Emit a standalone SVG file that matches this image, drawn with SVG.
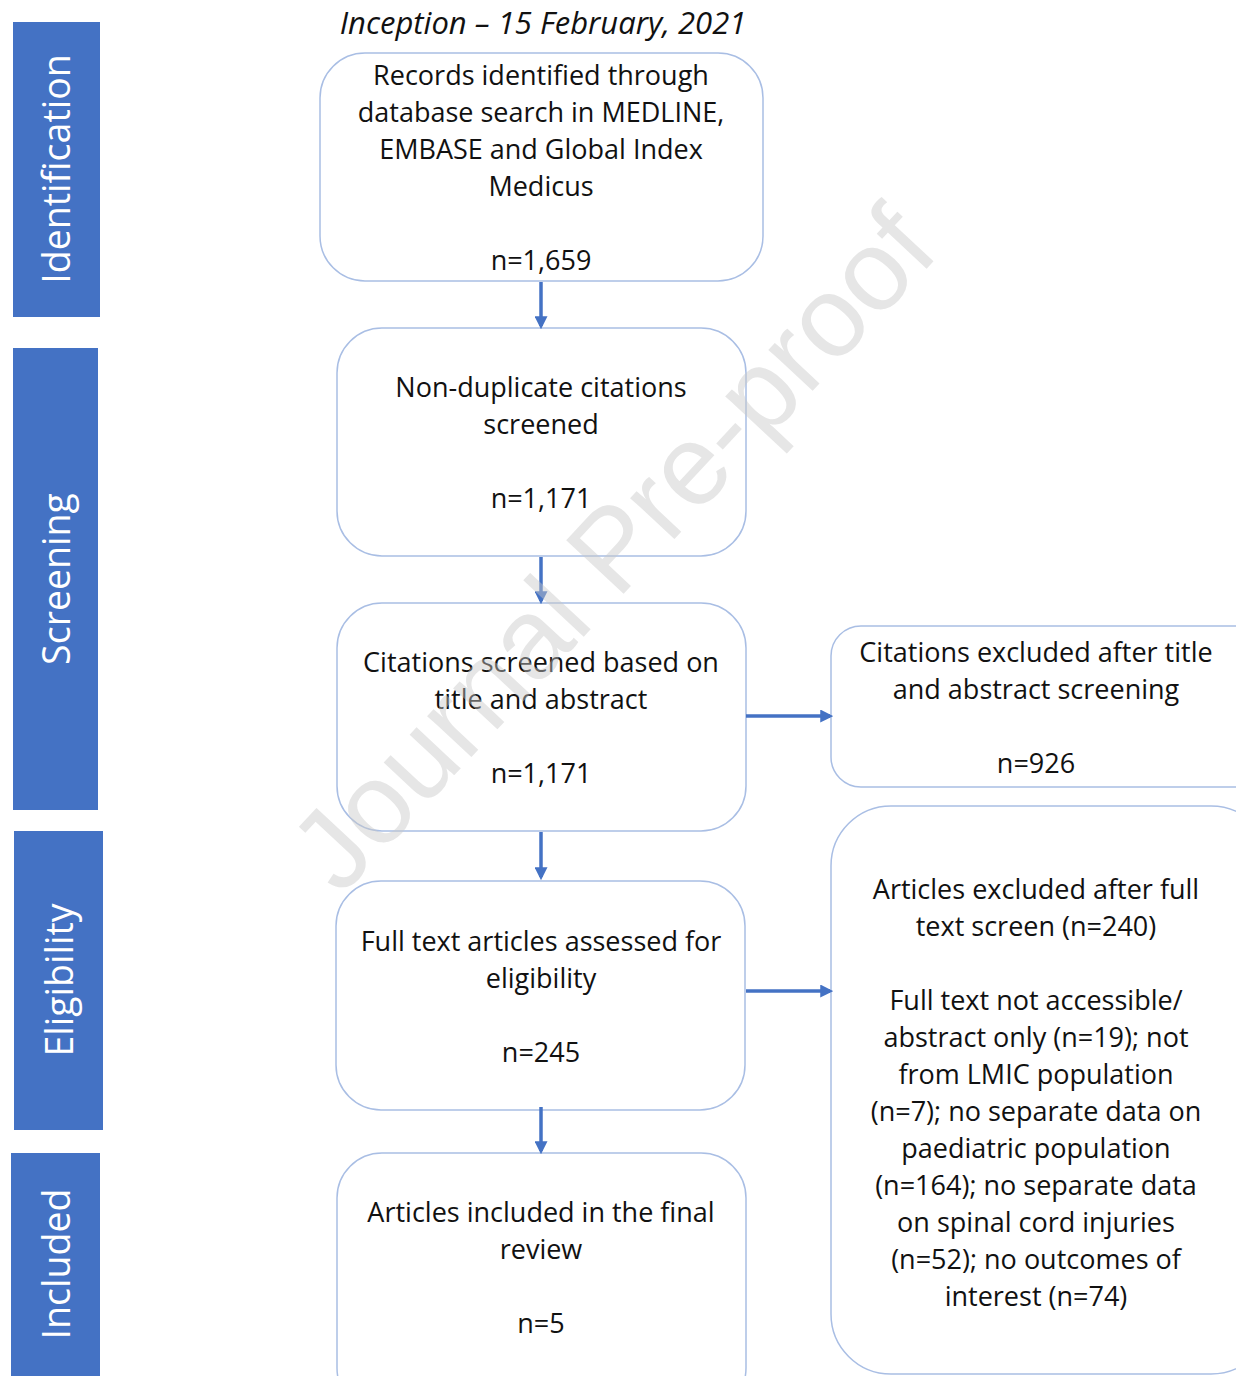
<svg xmlns="http://www.w3.org/2000/svg" width="1236" height="1376" viewBox="0 0 1236 1376">
<defs>
<style>
.bar{fill:#4472C4}
.bl{fill:#fff;font-family:"Open Sans","Liberation Sans",sans-serif;font-size:37.5px;text-anchor:middle}
.box{fill:#fff;stroke:#A9BEE4;stroke-width:1.5}
.t{fill:#111;font-family:"Open Sans","Liberation Sans",sans-serif;font-size:27px;text-anchor:middle}
.con{stroke:#4472C4;stroke-width:3.5;fill:none}
.wm{fill:#c8c8c8;opacity:0.45;font-family:"Liberation Sans",sans-serif;font-size:114px;text-anchor:middle}
</style>
<marker id="ah" markerWidth="13" markerHeight="13" refX="9" refY="6" orient="auto" markerUnits="userSpaceOnUse" viewBox="0 0 12 12">
<path d="M0,0 L12,6 L0,12 z" fill="#4472C4"/>
</marker>
</defs>
<rect width="1236" height="1376" fill="#fff"/>

<g id="phase-identification"><rect class="bar" x="13" y="22" width="87" height="295"/><text class="bl" transform="translate(70,169) rotate(-90)">Identification</text></g>
<g id="phase-screening"><rect class="bar" x="13" y="348" width="85" height="462"/><text class="bl" transform="translate(70,579) rotate(-90)">Screening</text></g>
<g id="phase-eligibility"><rect class="bar" x="14" y="831" width="89" height="299"/><text class="bl" transform="translate(73,980) rotate(-90)">Eligibility</text></g>
<g id="phase-included"><rect class="bar" x="11" y="1153" width="89" height="223"/><text class="bl" transform="translate(70,1264) rotate(-90)">Included</text></g>

<text id="title" x="543" y="34" style="font-family:'Open Sans','Liberation Sans',sans-serif;font-size:31px;font-style:italic;text-anchor:middle;fill:#111">Inception – 15 February, 2021</text>

<g id="n1"><rect class="box" x="320" y="53" width="443" height="228" rx="45"/>
<text class="t" x="541" y="85">Records identified through</text>
<text class="t" x="541" y="122">database search in MEDLINE,</text>
<text class="t" x="541" y="159">EMBASE and Global Index</text>
<text class="t" x="541" y="196">Medicus</text>
<text class="t" x="541" y="270">n=1,659</text></g>

<g id="n2"><rect class="box" x="337" y="328" width="409" height="228" rx="45"/>
<text class="t" x="541" y="397">Non-duplicate citations</text>
<text class="t" x="541" y="434">screened</text>
<text class="t" x="541" y="508">n=1,171</text></g>

<g id="n3"><rect class="box" x="337" y="603" width="409" height="228" rx="45"/>
<text class="t" x="541" y="672">Citations screened based on</text>
<text class="t" x="541" y="709">title and abstract</text>
<text class="t" x="541" y="783">n=1,171</text></g>

<g id="n4"><rect class="box" x="336" y="881" width="409" height="229" rx="45"/>
<text class="t" x="541" y="951">Full text articles assessed for</text>
<text class="t" x="541" y="988">eligibility</text>
<text class="t" x="541" y="1062">n=245</text></g>

<g id="n5"><rect class="box" x="337" y="1153" width="409" height="260" rx="45"/>
<text class="t" x="541" y="1222">Articles included in the final</text>
<text class="t" x="541" y="1259">review</text>
<text class="t" x="541" y="1333">n=5</text></g>

<g id="n6"><rect class="box" x="831" y="626" width="440" height="161" rx="30"/>
<text class="t" x="1036" y="662">Citations excluded after title</text>
<text class="t" x="1036" y="699">and abstract screening</text>
<text class="t" x="1036" y="773">n=926</text></g>

<g id="n7"><rect class="box" x="831" y="806" width="440" height="568" rx="60"/>
<text class="t" x="1036" y="899">Articles excluded after full</text>
<text class="t" x="1036" y="936">text screen (n=240)</text>
<text class="t" x="1036" y="1010">Full text not accessible/</text>
<text class="t" x="1036" y="1047">abstract only (n=19); not</text>
<text class="t" x="1036" y="1084">from LMIC population</text>
<text class="t" x="1036" y="1121">(n=7); no separate data on</text>
<text class="t" x="1036" y="1158">paediatric population</text>
<text class="t" x="1036" y="1195">(n=164); no separate data</text>
<text class="t" x="1036" y="1232">on spinal cord injuries</text>
<text class="t" x="1036" y="1269">(n=52); no outcomes of</text>
<text class="t" x="1036" y="1306">interest (n=74)</text></g>

<g id="connectors">
<line class="con" x1="541" y1="282" x2="541" y2="326" marker-end="url(#ah)"/>
<line class="con" x1="541" y1="557" x2="541" y2="601" marker-end="url(#ah)"/>
<line class="con" x1="541" y1="832" x2="541" y2="877" marker-end="url(#ah)"/>
<line class="con" x1="541" y1="1107" x2="541" y2="1151" marker-end="url(#ah)"/>
<line class="con" x1="746" y1="716" x2="830" y2="716" marker-end="url(#ah)"/>
<line class="con" x1="746" y1="991" x2="830" y2="991" marker-end="url(#ah)"/>
</g>

<text class="wm" transform="translate(641,575) rotate(-47)">Journal Pre-proof</text>
</svg>
